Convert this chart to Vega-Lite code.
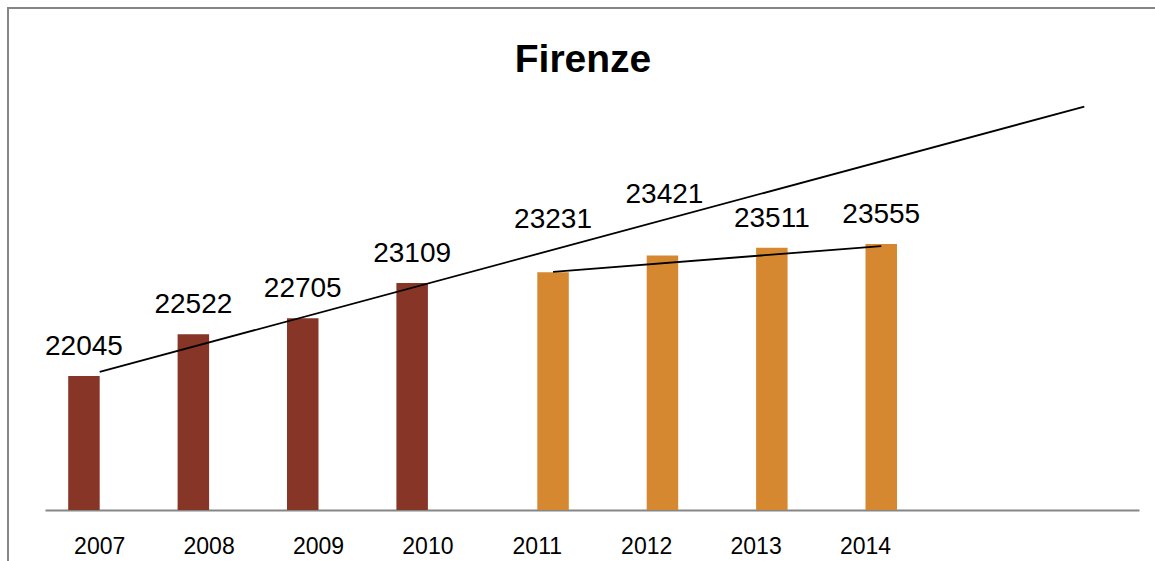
{
  "$schema": "https://vega.github.io/schema/vega-lite/v6.json",
  "autosize": {"type": "none"},
  "padding": {"left": 8, "top": 8, "right": 0, "bottom": 0},
  "width": 1160,
  "height": 560,
  "background": "white",
  "config": {
    "view": {"stroke": "#868686", "strokeWidth": 2},
    "font": "Liberation Sans"
  },
  "title": {
    "text": "Firenze",
    "font": "Liberation Sans",
    "fontSize": 39,
    "fontWeight": "bold",
    "color": "#000000",
    "anchor": "middle",
    "dx": -5,
    "offset": -103,
    "baseline": "alphabetic"
  },
  "datasets": {
    "dati": [
      {"anno": "2007", "serie": "2007-2010", "valore": 22045},
      {"anno": "2008", "serie": "2007-2010", "valore": 22522},
      {"anno": "2009", "serie": "2007-2010", "valore": 22705},
      {"anno": "2010", "serie": "2007-2010", "valore": 23109},
      {"anno": "2011", "serie": "2011-2014", "valore": 23231},
      {"anno": "2012", "serie": "2011-2014", "valore": 23421},
      {"anno": "2013", "serie": "2011-2014", "valore": 23511},
      {"anno": "2014", "serie": "2011-2014", "valore": 23555}
    ],
    "tendenza": [
      {"linea": "t1", "anno": "2007", "serie": "2007-2010", "valore": 22091},
      {"linea": "t1", "anno": "2016", "serie": "2007-2010", "valore": 25125},
      {"linea": "t2", "anno": "2011", "serie": "2011-2014", "valore": 23236},
      {"linea": "t2", "anno": "2014", "serie": "2011-2014", "valore": 23530}
    ]
  },
  "layer": [
    {
      "data": {"name": "dati"},
      "mark": {"type": "bar"},
      "encoding": {
        "x": {
          "field": "anno",
          "type": "ordinal",
          "scale": {
            "domain": ["2007", "2008", "2009", "2010", "2011", "2012", "2013", "2014", "2015", "2016"],
            "range": [37, 1131],
            "paddingInner": 0,
            "paddingOuter": 0
          },
          "axis": {
            "title": null,
            "values": ["2007", "2008", "2009", "2010", "2011", "2012", "2013", "2014"],
            "domainColor": "#868686",
            "domainWidth": 2,
            "ticks": false,
            "tickSize": 0,
            "labelAngle": 0,
            "labelFont": "Liberation Sans",
            "labelFontSize": 23,
            "labelColor": "#000000",
            "labelBaseline": "alphabetic",
            "labelPadding": 43,
            "offset": -58,
            "grid": false
          }
        },
        "xOffset": {
          "field": "serie",
          "type": "nominal",
          "scale": {"domain": ["2007-2010", "2011-2014"], "paddingInner": 0, "paddingOuter": 0.7365}
        },
        "y": {
          "field": "valore",
          "type": "quantitative",
          "scale": {"domain": [20512, 25212], "range": [502, 91], "zero": false, "nice": false},
          "axis": null
        },
        "y2": {"datum": 20512},
        "color": {
          "field": "serie",
          "type": "nominal",
          "scale": {"domain": ["2007-2010", "2011-2014"], "range": ["#873526", "#D5882F"]},
          "legend": null
        }
      }
    },
    {
      "data": {"name": "dati"},
      "transform": [{"filter": "datum.anno != '2011' && datum.anno != '2012'"}],
      "mark": {"type": "text", "baseline": "alphabetic", "dy": -21, "fontSize": 28, "font": "Liberation Sans", "color": "#000000"},
      "encoding": {
        "x": {"field": "anno", "type": "ordinal"},
        "xOffset": {"field": "serie", "type": "nominal"},
        "y": {"field": "valore", "type": "quantitative"},
        "text": {"field": "valore", "type": "quantitative", "format": "d"}
      }
    },
    {
      "data": {"name": "dati"},
      "transform": [{"filter": "datum.anno == '2011'"}],
      "mark": {"type": "text", "baseline": "alphabetic", "dy": -44, "fontSize": 28, "font": "Liberation Sans", "color": "#000000"},
      "encoding": {
        "x": {"field": "anno", "type": "ordinal"},
        "xOffset": {"field": "serie", "type": "nominal"},
        "y": {"field": "valore", "type": "quantitative"},
        "text": {"field": "valore", "type": "quantitative", "format": "d"}
      }
    },
    {
      "data": {"name": "dati"},
      "transform": [{"filter": "datum.anno == '2012'"}],
      "mark": {"type": "text", "baseline": "alphabetic", "dy": -53, "dx": 2, "fontSize": 28, "font": "Liberation Sans", "color": "#000000"},
      "encoding": {
        "x": {"field": "anno", "type": "ordinal"},
        "xOffset": {"field": "serie", "type": "nominal"},
        "y": {"field": "valore", "type": "quantitative"},
        "text": {"field": "valore", "type": "quantitative", "format": "d"}
      }
    },
    {
      "data": {"name": "tendenza"},
      "transform": [{"filter": "datum.linea == 't1'"}],
      "mark": {"type": "line", "color": "#000000", "strokeWidth": 1.8},
      "encoding": {
        "x": {"field": "anno", "type": "ordinal"},
        "y": {"field": "valore", "type": "quantitative"}
      }
    },
    {
      "data": {"name": "tendenza"},
      "transform": [{"filter": "datum.linea == 't2'"}],
      "mark": {"type": "line", "color": "#000000", "strokeWidth": 1.8},
      "encoding": {
        "x": {"field": "anno", "type": "ordinal"},
        "xOffset": {"field": "serie", "type": "nominal"},
        "y": {"field": "valore", "type": "quantitative"}
      }
    }
  ]
}
